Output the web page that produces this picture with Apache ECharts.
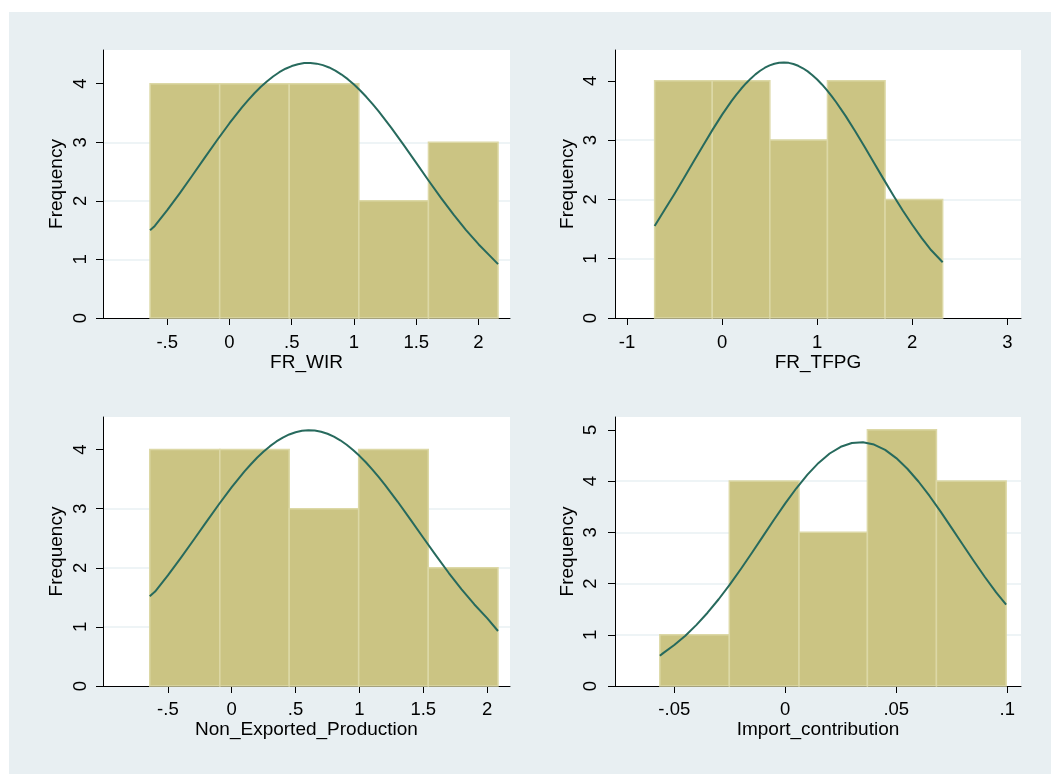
<!DOCTYPE html>
<html>
<head>
<meta charset="utf-8">
<script src="https://cdn.jsdelivr.net/npm/echarts@6/dist/echarts.min.js"></script>
<style>
html,body{margin:0;padding:0;background:#fff;}
#chart{width:1051px;height:774px;}
</style>
</head>
<body>
<div id="chart"></div>
<script>
// ---------- data ----------
const titles = ['FR_WIR', 'FR_TFPG', 'Non_Exported_Production', 'Import_contribution'];
const yAxisTitle = 'Frequency';

// histogram bin edges and counts
const edges1 = [-0.638, -0.079, 0.480, 1.039, 1.598, 2.157];
const counts1 = [4, 4, 4, 2, 3];
const edges2 = [-0.710, -0.104, 0.502, 1.108, 1.714, 2.320];
const counts2 = [4, 4, 3, 4, 2];
const edges3 = [-0.642, -0.093, 0.450, 0.994, 1.539, 2.085];
const counts3 = [4, 4, 3, 4, 2];
const edges4 = [-0.0565, -0.0252, 0.0062, 0.0370, 0.0681, 0.0995];
const counts4 = [1, 4, 3, 5, 4];

const curveX1 = [-0.638, -0.6, -0.5, -0.4, -0.3, -0.2, -0.1, 0, 0.1, 0.15, 0.2, 0.25, 0.3, 0.35, 0.4, 0.45, 0.5, 0.55, 0.6, 0.65, 0.7, 0.75, 0.8, 0.85, 0.9, 0.95, 1.0, 1.05, 1.1, 1.15, 1.2, 1.3, 1.4, 1.5, 1.6, 1.7, 1.8, 1.9, 2.0, 2.1, 2.157];
const curveY1 = [1.500, 1.572, 1.842, 2.129, 2.428, 2.733, 3.034, 3.325, 3.595, 3.720, 3.836, 3.943, 4.038, 4.123, 4.196, 4.255, 4.301, 4.333, 4.353, 4.354, 4.342, 4.317, 4.277, 4.223, 4.156, 4.077, 3.986, 3.884, 3.772, 3.651, 3.522, 3.245, 2.951, 2.647, 2.343, 2.047, 1.764, 1.501, 1.260, 1.043, 0.920];
const curveX2 = [-0.71, -0.6, -0.5, -0.4, -0.3, -0.2, -0.1, 0, 0.1, 0.15, 0.2, 0.25, 0.3, 0.35, 0.4, 0.45, 0.5, 0.55, 0.6, 0.65, 0.7, 0.75, 0.8, 0.85, 0.9, 0.95, 1.0, 1.05, 1.1, 1.15, 1.2, 1.3, 1.4, 1.5, 1.6, 1.7, 1.8, 1.9, 2.0, 2.1, 2.2, 2.32];
const curveY2 = [1.550, 1.839, 2.097, 2.365, 2.639, 2.911, 3.177, 3.430, 3.661, 3.767, 3.866, 3.956, 4.037, 4.109, 4.170, 4.221, 4.261, 4.289, 4.305, 4.310, 4.303, 4.284, 4.254, 4.212, 4.159, 4.095, 4.022, 3.939, 3.847, 3.747, 3.639, 3.405, 3.151, 2.884, 2.611, 2.338, 2.071, 1.814, 1.572, 1.347, 1.142, 0.940];
const curveX3 = [-0.642, -0.6, -0.5, -0.4, -0.3, -0.2, -0.1, 0, 0.1, 0.15, 0.2, 0.25, 0.3, 0.35, 0.4, 0.45, 0.5, 0.55, 0.6, 0.65, 0.7, 0.75, 0.8, 0.85, 0.9, 0.95, 1.0, 1.05, 1.1, 1.15, 1.2, 1.3, 1.4, 1.5, 1.6, 1.7, 1.8, 1.9, 2.0, 2.085];
const curveY3 = [1.520, 1.598, 1.871, 2.163, 2.465, 2.772, 3.074, 3.363, 3.630, 3.751, 3.864, 3.966, 4.057, 4.136, 4.202, 4.255, 4.293, 4.317, 4.327, 4.321, 4.301, 4.267, 4.218, 4.156, 4.080, 3.993, 3.893, 3.784, 3.665, 3.537, 3.402, 3.116, 2.814, 2.508, 2.205, 1.911, 1.635, 1.379, 1.148, 0.930];
const curveX4 = [-0.0565, -0.055, -0.05, -0.045, -0.04, -0.035, -0.03, -0.025, -0.02, -0.015, -0.01, -0.005, 0, 0.005, 0.01, 0.015, 0.02, 0.025, 0.03, 0.035, 0.04, 0.045, 0.05, 0.055, 0.06, 0.065, 0.07, 0.075, 0.08, 0.085, 0.09, 0.095, 0.0995];
const curveY4 = [0.590, 0.641, 0.799, 0.982, 1.193, 1.430, 1.693, 1.979, 2.283, 2.601, 2.926, 3.250, 3.564, 3.859, 4.125, 4.354, 4.538, 4.669, 4.743, 4.758, 4.712, 4.608, 4.448, 4.240, 3.991, 3.709, 3.402, 3.082, 2.757, 2.435, 2.122, 1.827, 1.590];

// tick values and labels
const xTickVals1 = [-0.5, 0, 0.5, 1, 1.5, 2];
const xTickLbls1 = ['-.5', '0', '.5', '1', '1.5', '2'];
const xTickVals2 = [-1, 0, 1, 2, 3];
const xTickLbls2 = ['-1', '0', '1', '2', '3'];
const xTickVals3 = [-0.5, 0, 0.5, 1, 1.5, 2];
const xTickLbls3 = ['-.5', '0', '.5', '1', '1.5', '2'];
const xTickVals4 = [-0.05, 0, 0.05, 0.1];
const xTickLbls4 = ['-.05', '0', '.05', '.1'];
const yTickVals123 = [0, 1, 2, 3, 4];
const yTickVals4 = [0, 1, 2, 3, 4, 5];

// ---------- chart ----------
const FONT = 'Liberation Sans, Arial, sans-serif';
const BAR_FILL = '#cbc483';
const BAR_EDGE = '#dcd8a6';
const CURVE = '#276a5d';
const GRIDLINE = '#e9f0f3';

const panels = [
  {edges: edges1, counts: counts1, cx: curveX1, cy: curveY1, xv: xTickVals1, xl: xTickLbls1, yv: yTickVals123,
   grid: {left: 103, top: 50, width: 407, height: 268}, xr: [-1.016, 2.253], yr: [0, 4.575],
   xMargin: 15, xNameGap: 35, yMargin: 13, yNameGap: 36.5},
  {edges: edges2, counts: counts2, cx: curveX2, cy: curveY2, xv: xTickVals2, xl: xTickLbls2, yv: yTickVals123,
   grid: {left: 615, top: 50, width: 406, height: 268}, xr: [-1.127, 3.144], yr: [0, 4.52],
   xMargin: 15, xNameGap: 35, yMargin: 15, yNameGap: 38},
  {edges: edges3, counts: counts3, cx: curveX3, cy: curveY3, xv: xTickVals3, xl: xTickLbls3, yv: yTickVals123,
   grid: {left: 103, top: 417, width: 407, height: 269}, xr: [-1.008, 2.179], yr: [0, 4.55],
   xMargin: 14, xNameGap: 34, yMargin: 13, yNameGap: 36.5},
  {edges: edges4, counts: counts4, cx: curveX4, cy: curveY4, xv: xTickVals4, xl: xTickLbls4, yv: yTickVals4,
   grid: {left: 615, top: 417, width: 406, height: 269}, xr: [-0.0767, 0.1062], yr: [0, 5.25],
   xMargin: 14, xNameGap: 34, yMargin: 15, yNameGap: 38}
];

function labelFor(vals, lbls) {
  return function (v) {
    for (let i = 0; i < vals.length; i++) {
      if (Math.abs(vals[i] - v) < 1e-9) return lbls[i];
    }
    return '';
  };
}

const grids = [], xAxes = [], yAxes = [], series = [];
panels.forEach((p, i) => {
  grids.push(Object.assign({show: true, backgroundColor: '#ffffff', borderWidth: 0, containLabel: false}, p.grid));
  xAxes.push({
    type: 'value', gridIndex: i, min: p.xr[0], max: p.xr[1],
    name: titles[i], nameLocation: 'middle', nameGap: p.xNameGap,
    nameTextStyle: {fontFamily: FONT, fontSize: 19, color: '#000'},
    axisLine: {show: true, onZero: false, lineStyle: {color: '#000', width: 1}},
    axisTick: {show: true, length: 7, customValues: p.xv, lineStyle: {color: '#000', width: 1}},
    axisLabel: {show: true, customValues: p.xv, margin: p.xMargin, fontFamily: FONT, fontSize: 18.5, color: '#000',
                formatter: labelFor(p.xv, p.xl), hideOverlap: false},
    splitLine: {show: false}
  });
  yAxes.push({
    type: 'value', gridIndex: i, min: p.yr[0], max: p.yr[1], interval: 1,
    name: yAxisTitle, nameLocation: 'middle', nameGap: p.yNameGap, nameRotate: 90,
    nameTextStyle: {fontFamily: FONT, fontSize: 19, color: '#000'},
    axisLine: {show: true, onZero: false, lineStyle: {color: '#000', width: 1}},
    axisTick: {show: true, length: 7, customValues: p.yv, lineStyle: {color: '#000', width: 1}},
    axisLabel: {show: true, customValues: p.yv, rotate: 90, margin: p.yMargin, fontFamily: FONT, fontSize: 18.5, color: '#000',
                formatter: (v) => String(v)},
    splitLine: {show: true, showMinLine: false, showMaxLine: false, lineStyle: {color: GRIDLINE, width: 1.5}}
  });
  const binData = p.counts.map((c, k) => [p.edges[k], p.edges[k + 1], c]);
  series.push({
    type: 'custom', xAxisIndex: i, yAxisIndex: i, data: binData,
    encode: {x: [0, 1], y: 2},
    renderItem: function (params, api) {
      const a = api.coord([api.value(0), api.value(2)]);
      const b = api.coord([api.value(1), 0]);
      return {
        type: 'rect',
        shape: {x: a[0], y: a[1], width: b[0] - a[0], height: b[1] - a[1]},
        style: {fill: BAR_FILL, stroke: BAR_EDGE, lineWidth: 1.5}
      };
    },
    z: 2, silent: true
  });
  series.push({
    type: 'line', xAxisIndex: i, yAxisIndex: i,
    data: p.cx.map((x, k) => [x, p.cy[k]]),
    showSymbol: false, smooth: false,
    lineStyle: {color: CURVE, width: 2, join: 'round'},
    z: 3, silent: true
  });
});

const chart = echarts.init(document.getElementById('chart'), null, {renderer: 'canvas'});
chart.setOption({
  backgroundColor: '#ffffff',
  animation: false,
  graphic: [{
    type: 'rect', z: -10, silent: true,
    shape: {x: 9, y: 12, width: 1042, height: 762},
    style: {fill: '#e8eff2'}
  }],
  grid: grids,
  xAxis: xAxes,
  yAxis: yAxes,
  series: series
});
</script>
</body>
</html>
